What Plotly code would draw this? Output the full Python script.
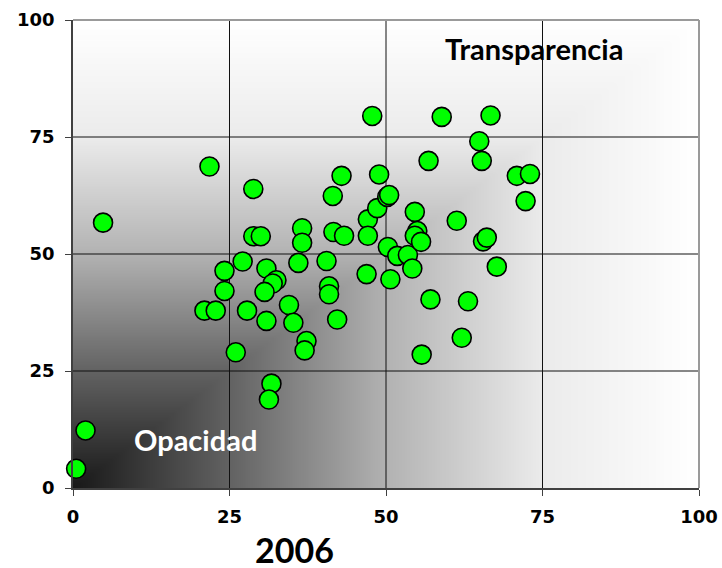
import numpy as np
import plotly.graph_objects as go

# ---- data ----
x_2006 = [0.5, 2.0, 4.8, 21.8, 21.0, 22.8, 24.2, 24.2, 26.0, 27.1, 27.8, 28.8, 28.8, 30.0,
          30.9, 32.5, 31.9, 30.6, 30.9, 31.7, 31.3, 34.5, 35.2, 36.0, 36.6, 36.6, 37.3, 37.0,
          40.5, 40.9, 40.9, 41.5, 41.6, 42.2, 42.9, 43.3, 46.9, 47.1, 47.1, 47.8, 48.6, 48.9,
          50.2, 50.5, 50.3, 50.7, 51.8, 53.5, 54.2, 54.6, 55.0, 54.6, 55.6, 55.7, 56.8, 57.1,
          58.9, 61.3, 62.1, 63.1, 64.9, 65.3, 65.5, 66.1, 66.7, 67.7, 70.9, 72.3, 73.0]
y_2008 = [4.1, 12.3, 56.7, 68.7, 37.9, 37.9, 46.4, 42.1, 29.0, 48.4, 37.9, 63.9, 53.8, 53.8,
          46.9, 44.4, 43.7, 41.9, 35.7, 22.3, 18.9, 39.1, 35.3, 48.1, 55.5, 52.4, 31.4, 29.4,
          48.5, 43.1, 41.4, 62.4, 54.7, 36.0, 66.7, 53.9, 45.7, 57.4, 53.9, 79.5, 59.8, 67.0,
          62.2, 62.6, 51.5, 44.6, 49.6, 49.8, 46.9, 59.0, 54.9, 53.9, 52.6, 28.5, 69.9, 40.3,
          79.3, 57.1, 32.1, 39.9, 74.1, 69.9, 52.7, 53.5, 79.6, 47.3, 66.7, 61.3, 67.1]
tick_vals = [0, 25, 50, 75, 100]
tick_text = ["0", "25", "50", "75", "100"]
grid_vals = [25, 50, 75]
label_top = "Transparencia"
label_bottom = "Opacidad"
x_title = "2006"

# ---- background gradient (style): brightness grows with max(x, y) ----
g = np.arange(0, 101)
gx, gy = np.meshgrid(g, g)
gz = np.maximum(gx, gy)

fig = go.Figure()
fig.add_trace(go.Heatmap(
    x=g, y=g, z=gz, zmin=0, zmax=100, zsmooth="best", showscale=False, hoverinfo="skip",
    colorscale=[[0, "#181818"], [0.25, "#626262"], [0.5, "#b2b2b2"], [0.75, "#ebebeb"], [1, "#ffffff"]],
))

# grid lines (between the gradient and the markers)
for v in grid_vals:
    fig.add_trace(go.Scatter(x=[v, v], y=[tick_vals[0], tick_vals[-1]], mode="lines",
                             line=dict(color="#111111", width=1), hoverinfo="skip", showlegend=False))
    fig.add_trace(go.Scatter(x=[tick_vals[0], tick_vals[-1]], y=[v, v], mode="lines",
                             line=dict(color="#111111", width=1), hoverinfo="skip", showlegend=False))

fig.add_trace(go.Scatter(
    x=x_2006, y=y_2008, mode="markers", cliponaxis=False, showlegend=False,
    marker=dict(size=19, color="#00ff00", line=dict(color="#000000", width=1.6)),
))

tickfont = dict(family="DejaVu Sans", size=18, color="#000000", weight="bold")
fig.update_xaxes(range=[0, 100], tickvals=tick_vals, ticktext=tick_text, showgrid=False,
                 zeroline=False, showline=True, linecolor="#404040", linewidth=1.5,
                 ticks="outside", ticklen=6, tickcolor="#404040", tickwidth=1.2,
                 tickfont=tickfont, ticklabelstandoff=6, automargin=False)
fig.update_yaxes(range=[0, 100], tickvals=tick_vals, ticktext=tick_text, showgrid=False,
                 zeroline=False, showline=True, linecolor="#404040", linewidth=1.5,
                 ticks="outside", ticklen=6, tickcolor="#404040", tickwidth=1.2,
                 tickfont=tickfont, ticklabelstandoff=7, automargin=False)

# top / right frame in grey
fig.add_shape(type="line", xref="paper", yref="paper", x0=0, x1=1, y0=1, y1=1,
              line=dict(color="#9a9a9a", width=2), layer="above")
fig.add_shape(type="line", xref="paper", yref="paper", x0=1, x1=1, y0=0, y1=1,
              line=dict(color="#9a9a9a", width=2), layer="above")

fig.add_annotation(x=73.6, y=94.0, xref="x", yref="y", text=label_top, showarrow=False,
                   font=dict(family="Lato", size=29, color="#000000", weight="bold"))
fig.add_annotation(x=19.6, y=10.3, xref="x", yref="y", text=label_bottom, showarrow=False,
                   font=dict(family="Lato", size=29, color="#ffffff", weight="bold"))
fig.add_annotation(x=0.3535, y=-0.132, xref="paper", yref="paper", text=x_title, showarrow=False,
                   yanchor="middle", font=dict(family="Lato", size=34, color="#000000", weight="bold"))

fig.update_layout(width=722, height=568, autosize=False, margin=dict(l=73, r=23, t=20, b=80),
                  paper_bgcolor="#ffffff", plot_bgcolor="#ffffff", showlegend=False)

fig.write_html("out.html",
               config={"responsive": False, "displayModeBar": False},
               post_script="document.body.style.margin='0';document.body.style.padding='0';"
                           "document.body.style.overflow='hidden';"
                           "document.documentElement.style.overflow='hidden';")
